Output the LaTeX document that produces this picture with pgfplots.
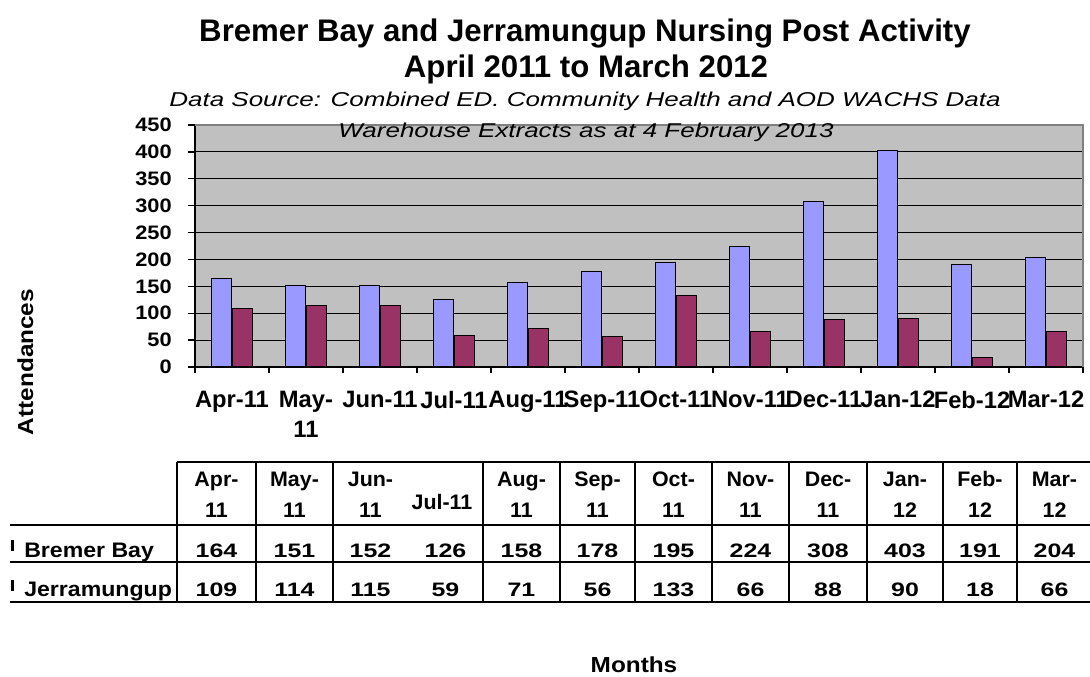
\documentclass[border=0pt]{standalone}
\usepackage{pgfplots}
\pgfplotsset{compat=1.18}
\usepackage{fontspec}
\setmainfont{Liberation Sans}
\newfontfamily\sfont[FakeStretch=1.12]{Liberation Sans}
\newfontfamily\tfont[FakeStretch=1.28]{Liberation Sans}
\newfontfamily\hfont[FakeStretch=1.02]{Liberation Sans}
\newfontfamily\rfont[FakeStretch=1.1]{Liberation Sans}
\newfontfamily\subfont[FakeStretch=1.3]{Liberation Sans}
\definecolor{bbay}{HTML}{9999FF}
\definecolor{jerr}{HTML}{993366}
\definecolor{plotbg}{HTML}{C0C0C0}
\definecolor{edge}{HTML}{808080}
\begin{document}
\begin{tikzpicture}[x=0.75pt,y=0.75pt]
\path[use as bounding box] (0,0) rectangle (1090,677);
\begin{axis}[
  at={(146.25pt,232.5pt)}, anchor=south west,
  scale only axis, width=666pt, height=181.5pt,
  ymin=0, ymax=450, ytick={0,50,...,450},
  xmin=-0.5, xmax=11.5,
  xtick={0,...,11},
  xticklabels={Apr-11,{May-\\11},Jun-11,Jul-11,Aug-11,Sep-11,Oct-11,Nov-11,Dec-11,Jan-12,Feb-12,Mar-12},
  minor xtick={-0.5,0.5,...,11.5},
  major x tick style={draw=none},
  tick align=outside,
  major tick length=5.25pt, minor tick length=4.5pt,
  tick style={black, line width=1pt},
  ymajorgrids, grid style={black, line width=0.75pt},
  axis x line*=bottom, axis y line*=left,
  axis line style={black, line width=1.5pt, -},
  axis background/.style={fill=plotbg},
  /pgf/number format/assume math mode=true,
  xticklabel style={font=\bfseries\fontsize{17.8}{22.5}\selectfont, align=center, anchor=north, inner sep=0pt, yshift=-12.5pt},
  yticklabel style={font=\sfont\bfseries\fontsize{14.6}{16}\selectfont, anchor=east, inner sep=0pt, xshift=-12pt},
  clip=false,
]
\draw[edge, line width=1.5pt] (rel axis cs:0,1) -- (rel axis cs:1,1) -- (rel axis cs:1,0);
\addplot[ybar, bar width=0.27, bar shift=-0.14, fill=bbay, draw=black, line width=0.75pt]
  coordinates {(0,164) (1,151) (2,152) (3,126) (4,158) (5,178) (6,195) (7,224) (8,308) (9,403) (10,191) (11,204)};
\addplot[ybar, bar width=0.27, bar shift=0.14, fill=jerr, draw=black, line width=0.75pt]
  coordinates {(0,109) (1,114) (2,115) (3,59) (4,71) (5,56) (6,133) (7,66) (8,88) (9,90) (10,18) (11,66)};
\end{axis}
% titles
\node[anchor=base, font=\bfseries\fontsize{23.4}{26}\selectfont] at (585,635) {Bremer Bay and Jerramungup Nursing Post Activity};
\node[anchor=base, font=\bfseries\fontsize{23.4}{26}\selectfont] at (586,599) {April 2011 to March 2012};
\node[anchor=base, font=\subfont\itshape\fontsize{15}{17}\selectfont] at (585,570) {Data Source: Combined ED. Community Health and AOD WACHS Data};
\node[anchor=base, font=\subfont\itshape\fontsize{15}{17}\selectfont] at (586,539) {Warehouse Extracts as at 4 February 2013};
% axis titles
\node[rotate=90, anchor=base, font=\sfont\bfseries\fontsize{16.3}{18}\selectfont] at (33,315) {Attendances};
\node[anchor=base, font=\sfont\bfseries\fontsize{16.3}{18}\selectfont] at (634,4) {Months};
% data table
\foreach \x in {177,256,333,483,560,635,712,789,867,943,1017}
  \draw[line width=1.5pt] (\x,215) -- (\x,75);
\draw[line width=1.5pt] (177,215) -- (1090,215);
\foreach \y in {152,115,75}
  \draw[line width=1.5pt] (10,\y) -- (1090,\y);
\foreach \cx/\ha/\hb/\va/\vb in {216.5/Apr-/11/164/109, 294.5/May-/11/151/114, 370.5/Jun-/11/152/115,
   521.5/Aug-/11/158/71, 597.5/Sep-/11/178/56, 673.5/Oct-/11/195/133, 750.5/Nov-/11/224/66,
   828/Dec-/11/308/88, 905/Jan-/12/403/90, 980/Feb-/12/191/18, 1054.5/Mar-/12/204/66}{
  \node[anchor=base, font=\hfont\bfseries\fontsize{15.75}{18}\selectfont] at (\cx,190) {\ha};
  \node[anchor=base, font=\hfont\bfseries\fontsize{15.75}{18}\selectfont] at (\cx,159) {\hb};
  \node[anchor=base, font=\tfont\bfseries\fontsize{14.6}{17}\selectfont] at (\cx,119) {\va};
  \node[anchor=base, font=\tfont\bfseries\fontsize{14.6}{17}\selectfont] at (\cx,80) {\vb};
}
\node[anchor=base, font=\hfont\bfseries\fontsize{15.75}{18}\selectfont] at (442,167) {Jul-11};
\node[anchor=base, font=\tfont\bfseries\fontsize{14.6}{17}\selectfont] at (445.5,119) {126};
\node[anchor=base, font=\tfont\bfseries\fontsize{14.6}{17}\selectfont] at (445.5,80) {59};
\fill (11,126) rectangle (14,137);
\fill (11,86) rectangle (14,97);
\node[anchor=base west, inner sep=0pt, font=\rfont\bfseries\fontsize{15.75}{18}\selectfont] at (24,119) {Bremer Bay};
\node[anchor=base west, inner sep=0pt, font=\rfont\bfseries\fontsize{15.75}{18}\selectfont] at (24,80) {Jerramungup};
\end{tikzpicture}
\end{document}
